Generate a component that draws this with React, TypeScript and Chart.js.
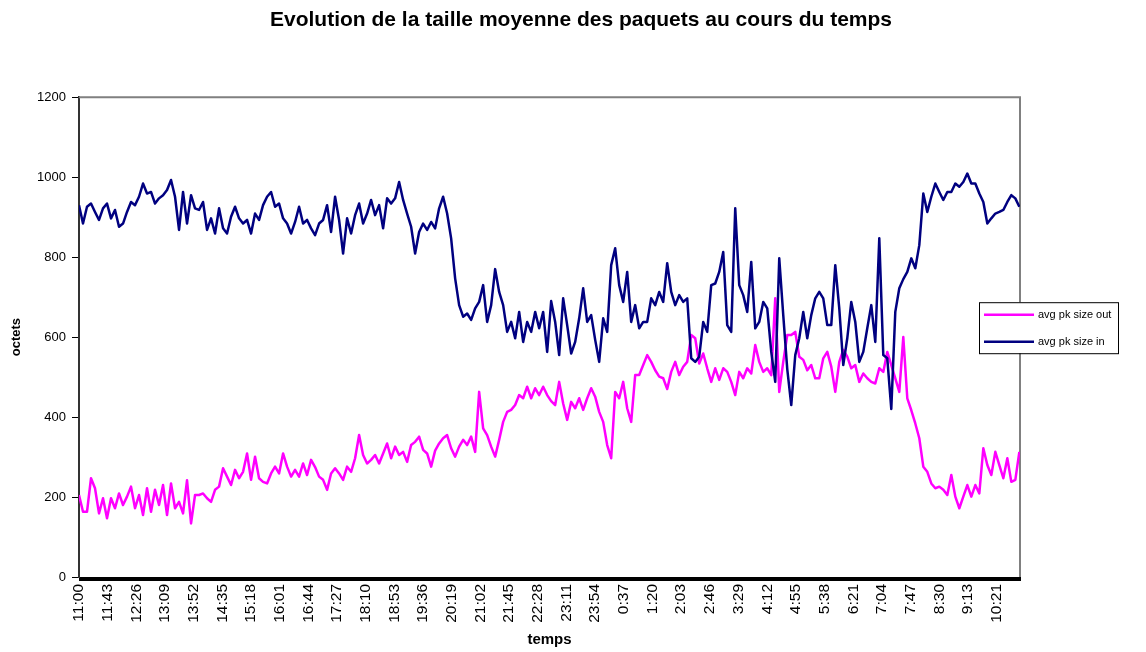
import React, { useEffect, useRef } from 'react';
import { Chart, registerables } from 'chart.js';

Chart.register(...registerables);

const FONT = '"Liberation Sans", Arial, sans-serif';

const TITLE = 'Evolution de la taille moyenne des paquets au cours du temps';
const X_TITLE = 'temps';
const Y_TITLE = 'octets';

// time labels shown every 43 minutes on the category axis
const TICK_LABELS = [
  '11:00', '11:43', '12:26', '13:09', '13:52', '14:35', '15:18', '16:01', '16:44',
  '17:27', '18:10', '18:53', '19:36', '20:19', '21:02', '21:45', '22:28', '23:11',
  '23:54', '0:37', '1:20', '2:03', '2:46', '3:29', '4:12', '4:55', '5:38', '6:21',
  '7:04', '7:47', '8:30', '9:13', '10:21',
];
const LABEL_STEP = 43; // minutes between two tick labels
const SAMPLE_STEP = 6; // minutes between two read samples
const TOTAL_MINUTES = 1411;

const SERIES_NAMES = ['avg pk size out', 'avg pk size in'];

const outValues = [
  205, 163, 163, 247, 222, 159, 197, 147, 197, 172,
  209, 180, 201, 226, 172, 205, 155, 222, 163, 218,
  180, 230, 155, 234, 172, 188, 159, 242, 134, 205,
  205, 209, 197, 188, 218, 226, 272, 251, 230, 268,
  247, 263, 309, 243, 301, 247, 238, 234, 259, 276,
  259, 309, 276, 251, 268, 251, 284, 255, 293, 275,
  251, 243, 218, 259, 272, 259, 243, 276, 263, 297,
  355, 305, 284, 293, 305, 284, 309, 334, 297, 326,
  305, 313, 288, 330, 338, 351, 318, 309, 276, 316,
  334, 347, 355, 322, 301, 326, 343, 330, 351, 313,
  463, 372, 355, 326, 301, 343, 388, 413, 418, 430,
  455, 447, 476, 447, 472, 455, 476, 455, 440, 430,
  488, 434, 393, 438, 422, 447, 418, 447, 472, 451,
  413, 388, 330, 297, 463, 447, 488, 422, 388, 505,
  505, 530, 555, 538, 517, 501, 497, 470, 513, 538,
  505, 526, 538, 605, 597, 534, 559, 522, 488, 522,
  493, 522, 513, 488, 455, 513, 497, 522, 509, 580,
  538, 513, 522, 505, 697, 463, 538, 605, 605, 613,
  551, 543, 517, 530, 497, 497, 547, 563, 526, 463,
  538, 568, 551, 522, 530, 488, 509, 497, 488, 484,
  522, 513, 563, 530, 497, 463, 600, 447, 417, 384,
  347, 276, 263, 234, 222, 226, 218, 205, 255, 201,
  172, 201, 230, 201, 230, 209, 322, 280, 255, 313,
  280, 247, 297, 238, 243, 313,
];

const inValues = [
  930, 884, 926, 934, 913, 893, 922, 934, 897, 918,
  876, 884, 913, 938, 930, 951, 984, 959, 963, 934,
  947, 955, 968, 993, 951, 868, 963, 884, 955, 922,
  918, 938, 868, 897, 859, 922, 872, 859, 901, 926,
  897, 884, 893, 859, 909, 893, 930, 951, 963, 926,
  934, 897, 884, 859, 888, 926, 884, 893, 872, 855,
  884, 893, 930, 863, 951, 893, 809, 897, 859, 905,
  934, 884, 909, 943, 905, 930, 872, 947, 934, 947,
  988, 943, 909, 876, 809, 863, 884, 868, 888, 872,
  922, 951, 909, 847, 747, 680, 651, 659, 643, 672,
  688, 730, 638, 680, 770, 713, 680, 613, 638, 597,
  663, 588, 638, 613, 663, 622, 663, 563, 690, 638,
  555, 697, 630, 559, 588, 647, 722, 638, 655, 593,
  538, 647, 613, 780, 822, 730, 688, 763, 638, 680,
  622, 638, 638, 697, 680, 713, 688, 785, 713, 680,
  705, 688, 697, 547, 538, 551, 638, 613, 730, 734,
  763, 813, 630, 613, 922, 730, 705, 663, 788, 622,
  638, 688, 672, 563, 488, 797, 655, 520, 430, 555,
  597, 663, 597, 655, 697, 713, 697, 630, 630, 780,
  672, 530, 597, 688, 638, 538, 563, 622, 680, 588,
  847, 555, 547, 420, 663, 722, 745, 763, 797, 772,
  830, 959, 913, 951, 984, 963, 943, 963, 963, 984,
  976, 988, 1009, 984, 984, 959, 938, 884, 897, 909,
  913, 918, 938, 955, 947, 926,
];

const COLORS = ['#FF00FF', '#000080'];

const toPoints = (values: number[]) => values.map((v, i) => ({ x: i * SAMPLE_STEP, y: v }));

const framePlugin = {
  id: 'plotFrame',
  beforeDatasetsDraw(chart: any) {
    const { ctx, chartArea: a } = chart;
    ctx.save();
    ctx.strokeStyle = '#808080';
    ctx.lineWidth = 2;
    ctx.beginPath();
    ctx.moveTo(a.left, a.top);
    ctx.lineTo(a.right, a.top);
    ctx.lineTo(a.right, a.bottom);
    ctx.stroke();
    ctx.restore();
  },
};

const boxLegendPlugin = {
  id: 'boxLegend',
  afterDraw(chart: any) {
    const { ctx, chartArea: a } = chart;
    const x0 = a.right - 41;
    const y0 = a.top + 205;
    const w = 139;
    const h = 51;
    ctx.save();
    ctx.fillStyle = '#ffffff';
    ctx.fillRect(x0, y0, w, h);
    ctx.strokeStyle = '#000000';
    ctx.lineWidth = 1;
    ctx.strokeRect(x0 + 0.5, y0 + 0.5, w, h);
    chart.data.datasets.forEach((ds: any, i: number) => {
      const y = y0 + 12.5 + i * 27;
      ctx.strokeStyle = ds.borderColor;
      ctx.lineWidth = 2.5;
      ctx.beginPath();
      ctx.moveTo(x0 + 5, y);
      ctx.lineTo(x0 + 55, y);
      ctx.stroke();
      ctx.fillStyle = '#000000';
      ctx.font = `11px ${FONT}`;
      ctx.textBaseline = 'middle';
      ctx.textAlign = 'left';
      ctx.fillText(ds.label, x0 + 59, y);
    });
    ctx.restore();
  },
};

export default function App() {
  const canvasRef = useRef<HTMLCanvasElement | null>(null);

  useEffect(() => {
    if (!canvasRef.current) return;
    const chart = new Chart(canvasRef.current, {
      type: 'line',
      data: {
        datasets: [
          {
            label: SERIES_NAMES[0],
            data: toPoints(outValues),
            borderColor: COLORS[0],
            backgroundColor: COLORS[0],
            borderWidth: 2.5,
            pointRadius: 0,
            tension: 0,
            borderJoinStyle: 'round',
            order: 1,
          },
          {
            label: SERIES_NAMES[1],
            data: toPoints(inValues),
            borderColor: COLORS[1],
            backgroundColor: COLORS[1],
            borderWidth: 2.5,
            pointRadius: 0,
            tension: 0,
            borderJoinStyle: 'round',
            order: 0,
          },
        ],
      },
      options: {
        responsive: false,
        animation: false,
        layout: { padding: { left: 16, right: 0, top: 0, bottom: 0 } },
        plugins: {
          legend: { display: false },
          tooltip: { enabled: false },
          title: {
            display: true,
            text: TITLE,
            color: '#000',
            font: { family: FONT, size: 21, weight: 'bold' },
            padding: { top: 8, bottom: 64 },
          },
        },
        scales: {
          x: {
            type: 'linear',
            min: 0,
            max: TOTAL_MINUTES,
            afterBuildTicks: (scale: any) => {
              const ticks = [];
              for (let v = 0; v <= TOTAL_MINUTES; v++) ticks.push({ value: v });
              scale.ticks = ticks;
            },
            afterFit: (scale: any) => {
              scale.height = 75;
            },
            ticks: {
              autoSkip: false,
              maxRotation: 90,
              minRotation: 90,
              padding: 3,
              color: '#000',
              font: { family: FONT, size: 15.5 },
              callback: (value: any) => {
                const v = Number(value);
                if (v % LABEL_STEP !== 0) return '';
                const k = v / LABEL_STEP;
                return k < TICK_LABELS.length ? TICK_LABELS[k] : '';
              },
            },
            grid: { drawOnChartArea: false, tickLength: 4, color: '#000', lineWidth: 1 },
            border: { color: '#000', width: 1 },
            title: {
              display: true,
              text: X_TITLE,
              color: '#000',
              font: { family: FONT, size: 15, weight: 'bold' },
              padding: { top: 0, bottom: 3 },
            },
          },
          y: {
            min: 0,
            max: 1200,
            afterFit: (scale: any) => {
              scale.width = 63;
            },
            ticks: {
              stepSize: 200,
              padding: 6,
              color: '#000',
              font: { family: FONT, size: 13 },
              callback: (value: any) => String(value),
            },
            grid: { drawOnChartArea: false, tickLength: 7, color: '#000', lineWidth: 1 },
            border: { color: '#333', width: 2 },
            title: {
              display: true,
              text: Y_TITLE,
              color: '#000',
              font: { family: FONT, size: 13, weight: 'bold' },
              padding: { top: -7, bottom: 0 },
            },
          },
          spacer: {
            type: 'linear',
            position: 'right',
            display: true,
            afterFit: (scale: any) => {
              scale.width = 126;
            },
            ticks: { display: false },
            grid: { display: false },
            border: { display: false },
          },
        },
      },
      plugins: [framePlugin, boxLegendPlugin],
    } as any);
    return () => chart.destroy();
  }, []);

  return (
    <div style={{ position: 'fixed', left: 0, top: 0, width: 1146, height: 652, background: '#fff' }}>
      <canvas ref={canvasRef} width={1146} height={652} style={{ display: 'block' }} />
    </div>
  );
}
